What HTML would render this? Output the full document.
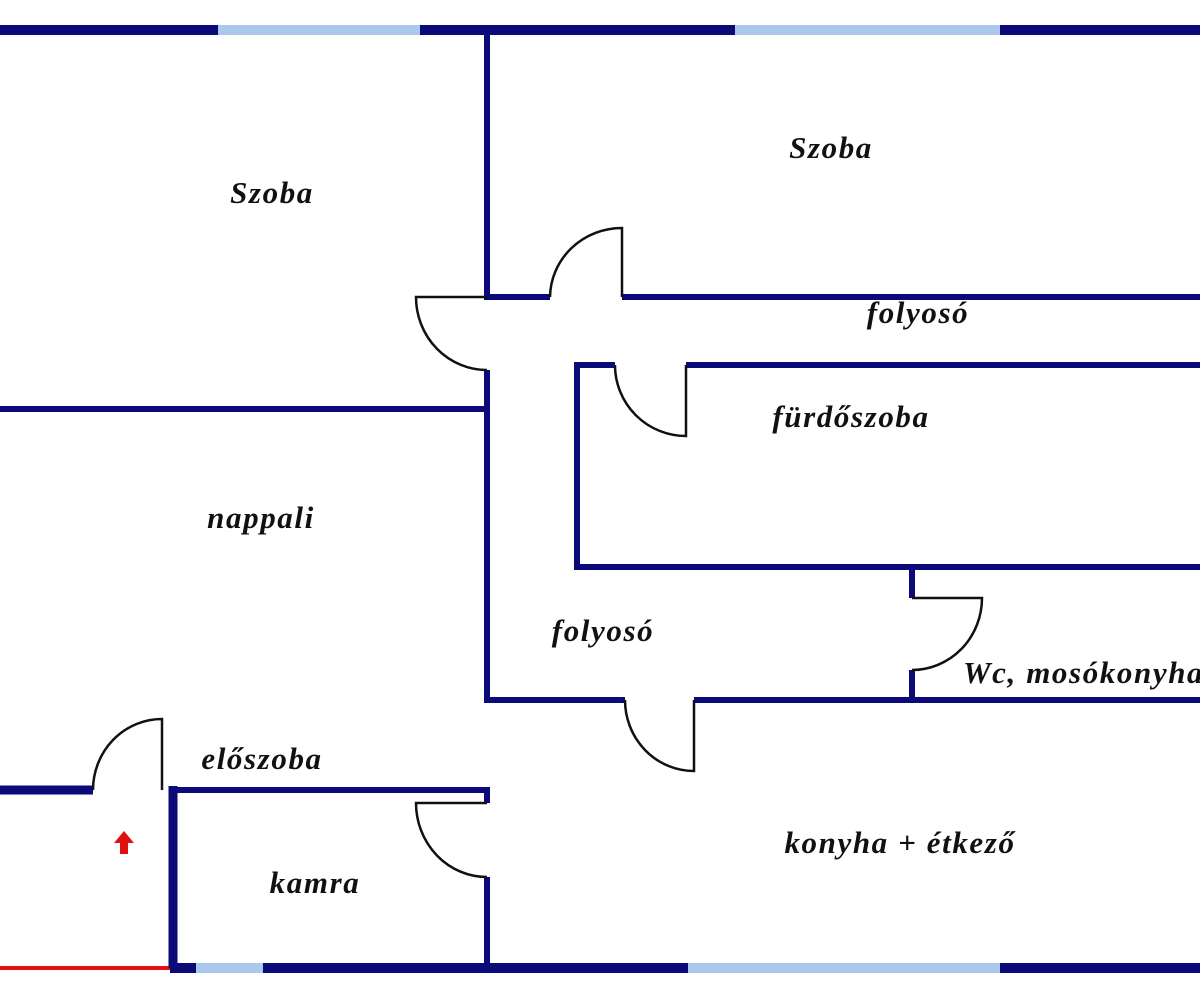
<!DOCTYPE html>
<html><head><meta charset="utf-8"><style>
html,body{margin:0;padding:0;background:#fff;}
svg{display:block}
text{font-family:"Liberation Serif",serif;font-style:italic;font-weight:bold;font-size:31px;letter-spacing:1.6px;fill:#111;}
</style></head><body>
<svg width="1200" height="1000" viewBox="0 0 1200 1000" xmlns="http://www.w3.org/2000/svg">
<rect width="1200" height="1000" fill="#fff"/>
<g stroke-linecap="butt" fill="none">
<line x1="0" y1="30" x2="218" y2="30" stroke="#0a0a78" stroke-width="10"/>
<line x1="218" y1="30" x2="420" y2="30" stroke="#a9c8ec" stroke-width="10"/>
<line x1="420" y1="30" x2="735" y2="30" stroke="#0a0a78" stroke-width="10"/>
<line x1="735" y1="30" x2="1000" y2="30" stroke="#a9c8ec" stroke-width="10"/>
<line x1="1000" y1="30" x2="1200" y2="30" stroke="#0a0a78" stroke-width="10"/>
<line x1="0" y1="968" x2="170" y2="968" stroke="#e01010" stroke-width="4"/>
<line x1="170" y1="968" x2="196" y2="968" stroke="#0a0a78" stroke-width="10"/>
<line x1="196" y1="968" x2="263" y2="968" stroke="#a9c8ec" stroke-width="10"/>
<line x1="263" y1="968" x2="688" y2="968" stroke="#0a0a78" stroke-width="10"/>
<line x1="688" y1="968" x2="1000" y2="968" stroke="#a9c8ec" stroke-width="10"/>
<line x1="1000" y1="968" x2="1200" y2="968" stroke="#0a0a78" stroke-width="10"/>
</g>
<g stroke="#0a0a78" stroke-width="6" fill="none" stroke-linecap="butt">
<line x1="487" y1="33" x2="487" y2="300"/>
<line x1="484" y1="297" x2="550" y2="297"/>
<line x1="622" y1="297" x2="1200" y2="297"/>
<line x1="487" y1="370" x2="487" y2="703"/>
<line x1="0" y1="409" x2="487" y2="409"/>
<line x1="577" y1="362" x2="577" y2="570"/>
<line x1="574" y1="365" x2="615" y2="365"/>
<line x1="686" y1="365" x2="1200" y2="365"/>
<line x1="574" y1="567" x2="1200" y2="567"/>
<line x1="912" y1="567" x2="912" y2="598"/>
<line x1="912" y1="670" x2="912" y2="700"/>
<line x1="484" y1="700" x2="625" y2="700"/>
<line x1="694" y1="700" x2="1200" y2="700"/>
<line x1="487" y1="787" x2="487" y2="803"/>
<line x1="487" y1="877" x2="487" y2="966"/>
<line x1="172" y1="790" x2="490" y2="790"/>
</g>
<g stroke="#0a0a78" stroke-width="9" fill="none">
<line x1="0" y1="790" x2="93" y2="790"/>
<line x1="173" y1="786" x2="173" y2="968"/>
</g>
<g stroke="#111" stroke-width="2.5" fill="none">
<path d="M550 297 A72 70 0 0 1 622 228 L622 297"/>
<path d="M487 297 L416 297 A71 73 0 0 0 487 370"/>
<path d="M615 365 A71 71 0 0 0 686 436 L686 365"/>
<path d="M912 598 L982 598 A70 72 0 0 1 912 670"/>
<path d="M625 700 A69 71 0 0 0 694 771 L694 700"/>
<path d="M93 790 A69 71 0 0 1 162 719 L162 790"/>
<path d="M487 803 L416 803 A71 74 0 0 0 487 877"/>
</g>
<path d="M124 831 L134 843 L128 843 L128 854 L120 854 L120 843 L114 843 Z" fill="#e01010"/>
<text x="272" y="203" text-anchor="middle">Szoba</text>
<text x="831" y="158" text-anchor="middle">Szoba</text>
<text x="918" y="323" text-anchor="middle">folyosó</text>
<text x="851" y="427" text-anchor="middle">fürdőszoba</text>
<text x="261" y="528" text-anchor="middle">nappali</text>
<text x="603" y="641" text-anchor="middle">folyosó</text>
<text x="963" y="683">Wc, mosókonyha</text>
<text x="262" y="769" text-anchor="middle">előszoba</text>
<text x="315" y="893" text-anchor="middle">kamra</text>
<text x="900" y="853" text-anchor="middle">konyha + étkező</text>
</svg>
</body></html>
